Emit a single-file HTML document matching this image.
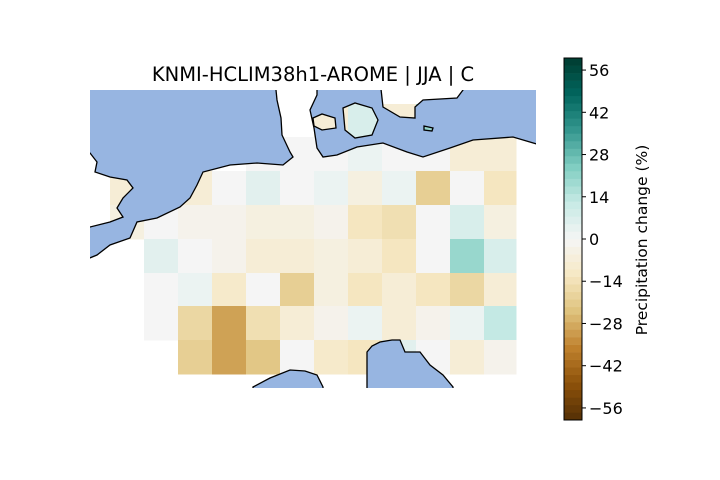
<!DOCTYPE html>
<html><head><meta charset="utf-8"><style>
body{margin:0;background:#fff;}
svg{display:block;font-family:"DejaVu Sans","Liberation Sans",sans-serif;}
</style></head><body>
<svg id="chart" width="720" height="480" viewBox="0 0 720 480">
<defs><clipPath id="mapclip"><rect x="90" y="90" width="446" height="298"/></clipPath></defs>
<text x="313" y="81" text-anchor="middle" font-size="19.5">KNMI-HCLIM38h1-AROME | JJA | C</text>
<g id="cells" clip-path="url(#mapclip)"></g>
<g clip-path="url(#mapclip)">
<path fill="#97b5e1" stroke="#000" stroke-width="1.3" fill-rule="evenodd"
d="M80,80 L275,80 L277,100 L281,118 L282,135 L290,152 L293,157 L283,165 L257,163 L230,165 L203,172 L197,185 L190,198 L180,207 L157,218 L137,222 L130,238 L110,245 L97,255 L80,262 L80,227 L90,227 L110,222 L123,217 L117,208 L123,198 L133,188 L127,180 L110,177 L95,172 L97,162 L90,153 L80,153 Z"/>
<path fill="#97b5e1" stroke="#000" stroke-width="1.3" fill-rule="evenodd"
d="M317,80 L317,95 L310,110 L314,128 L317,148 L323,157 L337,155 L357,147 L383,143 L407,152 L423,157 L450,148 L473,140 L513,137 L540,145 L545,80 L465,80 L463,90 L457,98 L423,100 L415,107 L415,118 L400,117 L383,107 L380,80 Z
M343,108 L355,103 L372,108 L378,120 L372,135 L355,138 L345,130 Z
M313,118 L322,114 L335,118 L336,128 L322,130 L314,126 Z
M424,126 L433,128 L432,131 L424,130 Z"/>
<path fill="#97b5e1" stroke="#000" stroke-width="1.3"
d="M253,387 L270,378 L290,370 L305,371 L317,375 L323,387 L323,395 L253,395 Z"/>
<path fill="#97b5e1" stroke="#000" stroke-width="1.3"
d="M367,352 L372,346 L380,342 L392,340 L400,340 L405,352 L420,352 L430,365 L443,375 L453,387 L453,395 L367,395 Z"/>
</g>
<g id="cbar"></g>
<text transform="translate(647,240) rotate(-90)" text-anchor="middle" font-size="15.5">Precipitation change (%)</text>
</svg>
<script>
const rowTops=[104,137,171,205,239,273,306,340,374];
const colLefts=[110,144,178,212,246,280,314,348,382,416,450,484,516];
const row0=[null,null,null,null,null,null,-7.5,7.5,-7.5,20,null,null];
const row1=[null,null,null,null,0,0,0,2.5,0,0,-7.5,-7.5];
const row2=[-7.5,null,-7.5,0,5,0,2.5,-5,2.5,-20,0,-12.5];
const row3=[-5,0,-2.5,-2.5,-5,-5,-2.5,-12.5,-15,0,7.5,-5];
const row4=[null,5,0,-2.5,-7.5,-7.5,-5,-7.5,-12.5,0,20,7.5];
const row5=[null,0,2.5,-10,0,-20,-5,-12.5,-7.5,-12.5,-17.5,-7.5];
const row6=[null,0,-17.5,-30,-15,-7.5,-2.5,2.5,-7.5,-2.5,2.5,12.5];
const row7=[null,null,-20,-30,-22.5,0,-10,-12.5,5,0,-7.5,-2.5];
const cbarTicks=[-56,-42,-28,-14,0,14,28,42,56];
const vmin=-60,vmax=60;
const stops=["#543005","#8c510a","#bf812d","#dfc27d","#f6e8c3","#f5f5f5","#c7eae5","#80cdc1","#35978f","#01665e","#003c30"];
function hex(h){return [1,3,5].map(i=>parseInt(h.substr(i,2),16));}
function cmap(v){let t=(v-vmin)/(vmax-vmin)*10;t=Math.max(0,Math.min(10,t));const i=Math.min(9,Math.floor(t)),f=t-i;const a=hex(stops[i]),b=hex(stops[i+1]);return "rgb("+a.map((x,k)=>Math.round(x+(b[k]-x)*f)).join(",")+")";}
const NS="http://www.w3.org/2000/svg";
const rows=[row0,row1,row2,row3,row4,row5,row6,row7];
const cells=document.getElementById("cells");
rows.forEach((r,ri)=>r.forEach((v,ci)=>{if(v===null)return;const e=document.createElementNS(NS,"rect");
e.setAttribute("x",colLefts[ci]);e.setAttribute("y",rowTops[ri]);
e.setAttribute("width",colLefts[ci+1]-colLefts[ci]+0.5);e.setAttribute("height",rowTops[ri+1]-rowTops[ri]+0.5);
e.setAttribute("fill",cmap(v));


cells.appendChild(e);}));
const cb=document.getElementById("cbar");const cx=564,cw=18,ctop=58,cbot=420;
function cy(v){return cbot-(v-vmin)/(vmax-vmin)*(cbot-ctop);}
for(let v=vmin;v<vmax;v+=2.5){const e=document.createElementNS(NS,"rect");
e.setAttribute("x",cx);e.setAttribute("y",cy(v+2.5));e.setAttribute("width",cw);e.setAttribute("height",cy(v)-cy(v+2.5)+0.3);
e.setAttribute("fill",cmap(v+1.25));


cb.appendChild(e);}
const fr=document.createElementNS(NS,"rect");fr.setAttribute("x",cx);fr.setAttribute("y",ctop);fr.setAttribute("width",cw);fr.setAttribute("height",cbot-ctop);fr.setAttribute("fill","none");fr.setAttribute("stroke","#000");fr.setAttribute("stroke-width","1");


cb.appendChild(fr);
cbarTicks.forEach(t=>{const y=cy(t);const l=document.createElementNS(NS,"line");l.setAttribute("x1",cx+cw);l.setAttribute("x2",cx+cw+4);l.setAttribute("y1",y);l.setAttribute("y2",y);l.setAttribute("stroke","#000");


cb.appendChild(l);
const tx=document.createElementNS(NS,"text");tx.setAttribute("x",cx+cw+7);tx.setAttribute("y",y+6);tx.setAttribute("font-size","16");tx.textContent=t<0?"\u2212"+Math.abs(t):String(t);


cb.appendChild(tx);});
</script>
</body></html>
